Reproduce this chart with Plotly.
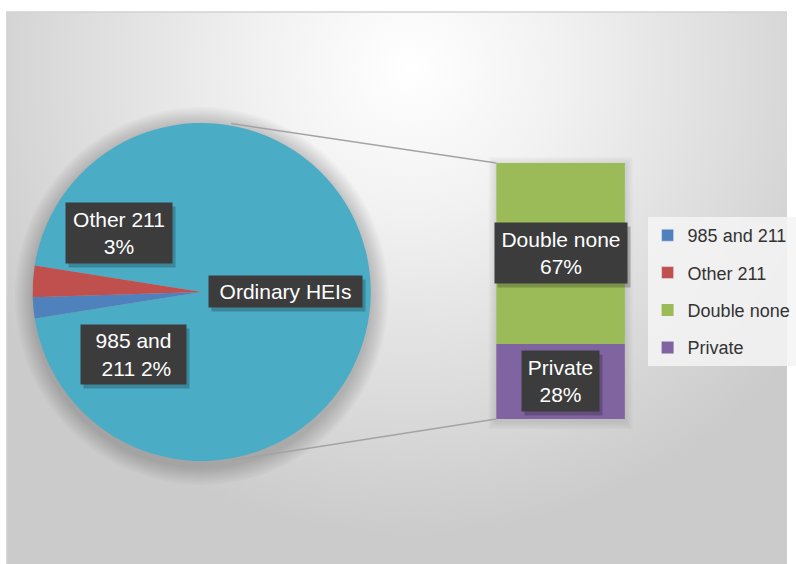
import base64
import math
import plotly.graph_objects as go

# ---- data -------------------------------------------------------------
pie_labels = ["Ordinary HEIs", "985 and 211", "Other 211"]
pie_values = [95, 2, 3]
pie_colors = ["#4BACC6", "#4F81BD", "#C0504D"]

bar_labels = ["Private", "Double none"]          # stacked bottom -> top
bar_values = [28, 67]
bar_colors = ["#8064A2", "#9BBB59"]

legend_order = ["985 and 211", "Other 211", "Double none", "Private"]

# ---- canvas geometry (pixels) ------------------------------------------
W, H = 796, 564
FONT = "Liberation Sans, Arial, sans-serif"


def px(x):
    return x / W


def py(y):
    return 1 - y / H


pie_cx, pie_cy, pie_r = 204, 292, 171
bar_x0, bar_x1, bar_top, bar_bottom = 502, 632, 163, 419
total = sum(bar_values)


def bar_py(val):
    """Paper y of a value on the bar's value axis."""
    return py(bar_bottom - val / total * (bar_bottom - bar_top))


fig = go.Figure()

# pie: the large "Ordinary HEIs" slice is centred on the right-hand side
small_share = sum(pie_values[1:]) / sum(pie_values) * 360
fig.add_trace(go.Pie(
    labels=pie_labels,
    values=pie_values,
    marker=dict(colors=pie_colors, line=dict(width=0)),
    sort=False,
    direction="clockwise",
    rotation=-(90 - small_share / 2),
    textinfo="none",
    hoverinfo="label+percent",
    showlegend=False,
    domain=dict(x=[px(pie_cx - pie_r), px(pie_cx + pie_r)],
                y=[py(pie_cy + pie_r), py(pie_cy - pie_r)]),
))

# stacked bar that breaks down the "Ordinary HEIs" share
for name, val, col in zip(bar_labels, bar_values, bar_colors):
    fig.add_trace(go.Bar(
        x=[0], y=[val], name=name, marker=dict(color=col, line=dict(width=0)),
        width=1, legendgroup=name, legendrank=legend_order.index(name) + 1,
        hoverinfo="name+y",
    ))

# legend entries for the two small pie slices
for name, col in zip(pie_labels[1:], pie_colors[1:]):
    fig.add_trace(go.Bar(
        x=[None], y=[None], name=name, marker=dict(color=col),
        legendgroup=name, legendrank=legend_order.index(name) + 1,
    ))

# ---- background: whole-page SVG with a framed radial gradient -----------
fx0, fy0 = 7, 12
svg = (
    f'<svg xmlns="http://www.w3.org/2000/svg" width="{W}" height="{H}" '
    f'viewBox="0 0 {W} {H}" preserveAspectRatio="none">'
    '<defs><radialGradient id="g" gradientUnits="userSpaceOnUse" '
    f'cx="{W * 0.52}" cy="{H * 0.12}" r="{W * 0.62}" '
    f'gradientTransform="translate({W * 0.52} {H * 0.12}) scale(1 0.95) '
    f'translate({-W * 0.52} {-H * 0.12})">'
    '<stop offset="0" stop-color="#ffffff"/>'
    '<stop offset="0.3" stop-color="#f2f2f2"/>'
    '<stop offset="1" stop-color="#cbcbcb"/>'
    '</radialGradient></defs>'
    f'<rect width="{W}" height="{H}" fill="#ffffff"/>'
    f'<rect x="{fx0}" y="{fy0}" width="{W - fx0 + 2}" height="{H - fy0 + 2}" '
    'fill="url(#g)" stroke="#d2d2d2" stroke-width="1.5"/></svg>'
)
src = "data:image/svg+xml;base64," + base64.b64encode(svg.encode()).decode()

shapes = []
# soft halo around the pie
for k in range(1, 11):
    rr = pie_r + 1.8 * k
    shapes.append(dict(
        type="circle", xref="paper", yref="paper", layer="below",
        x0=px(pie_cx - rr), x1=px(pie_cx + rr),
        y0=py(pie_cy + 4 + rr), y1=py(pie_cy + 4 - rr),
        fillcolor="rgba(0,0,0,0.018)", line=dict(width=0),
    ))
# soft shadow behind the bar
for k in range(1, 6):
    d = 1.6 * k
    shapes.append(dict(
        type="rect", xref="paper", yref="paper", layer="below",
        x0=px(bar_x0 - d), x1=px(bar_x1 + d),
        y0=py(bar_bottom + d + 2), y1=py(bar_top - d + 2),
        fillcolor="rgba(0,0,0,0.02)", line=dict(width=0),
    ))

# connector lines from the pie to the ends of the stacked bar
conn_angle = math.radians(10)
sx = pie_cx + pie_r * math.sin(conn_angle)
top_y = pie_cy - pie_r * math.cos(conn_angle)
bot_y = pie_cy + pie_r * math.cos(conn_angle)
for sy, yval in ((top_y, total), (bot_y, 0)):
    shapes.append(dict(
        type="line", xref="paper", yref="paper", layer="above",
        x0=px(sx), y0=py(sy), x1=px(bar_x0), y1=bar_py(yval),
        line=dict(color="#a3a3a3", width=1.5),
    ))

# ---- dark data-label boxes ----------------------------------------------
annotations = []


def label_box(text, x, y, w, h):
    common = dict(x=x, y=y, xref="paper", yref="paper", showarrow=False,
                  width=w, height=h, borderpad=2, align="center",
                  xanchor="center", yanchor="middle")
    annotations.append(dict(common, text=" ", bgcolor="rgba(0,0,0,0.22)",
                            xshift=3, yshift=-4,
                            font=dict(family=FONT, size=21, color="rgba(0,0,0,0)")))
    annotations.append(dict(common, text=text, bgcolor="#3c3c3c",
                            font=dict(family=FONT, size=21, color="white")))


pie_total = sum(pie_values)
pct = {lab: round(v / pie_total * 100) for lab, v in zip(pie_labels, pie_values)}
label_box(f"Other 211<br>{pct['Other 211']}%", px(120), py(233), 102, 56)
label_box(f"985 and<br> 211 {pct['985 and 211']}%", px(135.5), py(354.5), 101, 55)
label_box("Ordinary HEIs", px(288.5), py(291.5), 149, 27)

base = 0
for name, val in zip(bar_labels, bar_values):
    w = 128 if name == "Double none" else 73
    label_box(f"{name}<br>{val}%", px(567), bar_py(base + val / 2), w, 56)
    base += val

fig.update_layout(
    width=W, height=H,
    margin=dict(l=0, r=0, t=0, b=0),
    paper_bgcolor="white",
    plot_bgcolor="rgba(0,0,0,0)",
    barmode="stack",
    font=dict(family=FONT, color="#333333"),
    xaxis=dict(domain=[px(bar_x0), px(bar_x1)], range=[-0.5, 0.5], visible=False,
               fixedrange=True),
    yaxis=dict(domain=[py(bar_bottom), py(bar_top)], range=[0, total], visible=False,
               fixedrange=True),
    images=[dict(source=src, xref="paper", yref="paper", x=0, y=1,
                 sizex=1, sizey=1, xanchor="left", yanchor="top",
                 sizing="stretch", layer="below")],
    shapes=shapes,
    annotations=annotations,
    legend=dict(
        x=px(655), y=py(217), xanchor="left", yanchor="top",
        bgcolor="rgba(244,244,244,0.85)", borderwidth=0,
        font=dict(family=FONT, size=18, color="#333333"),
        traceorder="grouped", tracegroupgap=11,
    ),
)

fig.write_html("out.html", config={"displayModeBar": False})
